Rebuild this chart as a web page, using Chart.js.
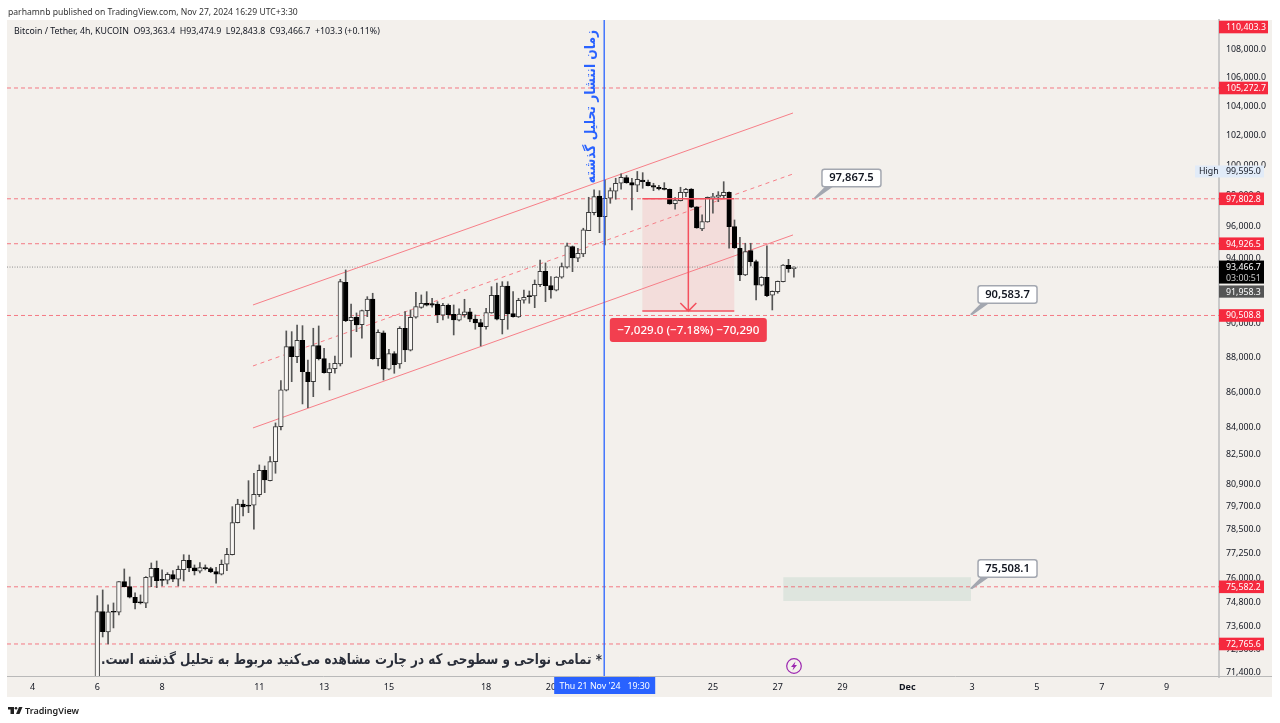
<!DOCTYPE html>
<html><head><meta charset="utf-8">
<style>
html,body{margin:0;padding:0;background:#fff;width:1280px;height:723px;overflow:hidden}
#c{position:absolute;left:0;top:0}
.t{position:absolute;white-space:pre;font-family:"Noto Sans",sans-serif;color:#131722}
</style>
<script src="https://cdn.jsdelivr.net/npm/chart.js@4/dist/chart.umd.min.js"></script>
</head><body>
<canvas id="c" width="1280" height="723"></canvas>
<div class="t" style="left:8px;top:6px;font-size:8.6px;color:#333">parhamnb published on TradingView.com, Nov 27, 2024 16:29 UTC+3:30</div>
<div class="t" style="left:14px;top:25px;font-size:8.8px">Bitcoin / Tether, 4h, KUCOIN  O93,363.4  H93,474.9  L92,843.8  C93,466.7  +103.3 (+0.11%)</div>
<div class="t" style="left:25px;top:704px;font-size:9px;font-weight:600;color:#222">TradingView</div>
<script>
const opens=[71048,74346,73350,74331,74316,75841,75590,75060,74791,74761,76063,76519,75911,75911,76200,75962,76448,76926,76535,76367,76550,76500,76347,76216,76723,77213,78872,79858,79753,79790,80354,81667,81103,82134,84067,86124,88654,88066,89030,87176,86616,88713,87948,87135,87367,87640,92527,90196,90401,89958,90799,91506,87948,89465,87332,88243,87640,89744,88442,90401,91000,91246,91221,91203,90522,91125,90582,90220,90558,90721,90298,90077,89839,90661,91733,90256,92301,90619,90419,91427,91690,91690,92380,93206,92319,92038,92835,93455,94755,94014,94283,95755,96907,97987,96649,97837,98294,98817,99185,98856,98686,99032,98901,98660,98555,98425,98425,97487,97681,98203,98444,97275,95864,96309,97876,97901,98007,98229,96010,94642,92978,94492,93802,92344,92835,91733,91952,92564,93578,93363.4];
const highs=[75139,75425,74677,74776,75841,76484,76078,75275,75175,76094,76789,76890,76433,76296,76397,76636,77213,77198,76687,76804,76687,76570,76570,76941,77543,79716,80107,80070,81103,81504,81955,81900,82408,84273,86673,89584,89542,89940,89899,87872,89744,89881,88560,87681,88107,92711,93288,91203,90661,90841,91647,91855,89643,89584,88501,88360,89840,90736,90841,91904,91752,91952,91549,91342,91246,91203,91143,90902,91488,90944,90540,90280,90944,92258,92484,92564,92564,91953,91549,92056,91995,92668,93907,93721,92872,92872,93721,94975,94787,94642,95908,97901,98379,98333,99032,98510,99145,99430,99330,99145,99595,99516,99032,98817,98686,98856,98444,97876,98555,98490,98470,97294,96759,97922,98163,98268,98921,98249,96436,95334,94956,94956,93907,92872,94787,91995,92606,93628,93950,93474.9];
const lows=[70900,73106,72767,73546,74183,75575,75024,74479,74726,74544,75590,75540,75625,75726,75841,75625,75876,76347,76180,76280,76433,76296,75761,76180,76397,77198,78856,79223,79398,78528,80247,80460,81087,81504,83883,86084,86616,87715,85343,85134,85758,87872,87100,86141,87100,87524,90137,88031,89542,89149,90437,87913,87524,86713,87292,87100,87390,87773,88401,90340,90942,91083,91004,90077,90238,90340,89346,90179,90401,90137,89685,88695,89685,90643,90238,89405,89685,90401,90389,91246,91246,90980,92258,91342,91549,91995,92773,93392,93182,93802,94115,96888,96759,95628,94850,97513,97772,98425,98817,97081,98268,98490,98640,98333,98379,98379,97449,97126,97661,97942,97229,95908,95755,96290,96868,97616,97837,94642,94630,92625,92935,93535,91445,92301,91647,90841,91855,92546,93145,92843.8];
const closes=[74346,73365,74331,74315,75841,75590,75060,74791,74780,76063,76519,75891,75905,76216,75962,76469,76926,76535,76382,76550,76500,76347,76216,76723,77234,78872,79858,79700,79745,80375,81667,81140,82134,84067,86141,88654,88066,89030,87193,86616,88713,87948,87135,87367,87681,92564,90196,90401,89940,90799,91506,87948,89506,87350,88243,87599,89744,88460,90401,91040,91246,91125,91125,90540,91125,90558,90238,90600,90721,90280,90060,89839,90680,91733,90280,92301,90600,90437,91427,91610,91647,92405,93206,92319,92056,92854,93492,94787,94033,94328,95800,96933,97942,96649,97837,98333,98817,99211,98856,98686,99078,98921,98660,98555,98444,98415,97468,97726,98229,98425,97255,95928,96328,97901,97942,98052,98229,96010,94660,92978,94429,93802,92344,92835,91708,91978,92588,93597,93363,93466.7];

const yTickValues=[108000,106000,104000,102000,100000,98000,96000,94000,92000,90000,88000,86000,84000,82500,80900,79700,78500,77250,76000,74800,73600,72500,71400];
const xTickBars=[-12,0,12,30,42,54,72,84,114,126,138,150,162,174,186,198];
const xTickLabels=['4','6','8','11','13','15','18','20','25','27','29','Dec','3','5','7','9'];
const levelPrices=[105272.7,97802.8,94926.5,90508.8,75582.2,72765.6];
const levelLabels=['105,272.7','97,802.8','94,926.5','90,508.8','75,582.2','72,765.6'];
const topLabelPrice=110403.3, topLabelText='110,403.3';
const lastPrice=93466.7, prevPrice=91958.3, highPrice=99595.0;
const channelBars=[28.83,128.83];
const channelUpper=[91143,103539];
const channelMiddle=[87524,99430];
const channelLower=[83994,95482];
const markerBar=93.87;
const measureBars=[100.93,117.96];
const measureBarMid=109.45;
const measurePrices=[97802.8,90773.8];
const zoneBars=[127.04,161.8];
const zonePrices=[76063,74875];
const calloutBars=[132.9,161.8,161.8];
const calloutPrices=[97867.5,90583.7,75508.1];
const calloutTexts=['97,867.5','90,583.7','75,508.1'];

const X_MIN=-16.72,X_MAX=207.72,Y_MAX=110136,Y_MIN=71187;
const FONT='"Noto Sans",sans-serif';
const PINK='rgba(244,82,96,0.75)';
const idx=opens.map((_,i)=>i);
const isUp=i=>closes[i]>=opens[i];

function hLine(p,color,dash){return {type:'line',data:[{x:X_MIN,y:p},{x:X_MAX,y:p}],borderColor:color,borderWidth:1,borderDash:dash,pointRadius:0,order:5,tension:0};}
function seg(xs,ys,color,dash,order,w){return {type:'line',data:xs.map((x,i)=>({x,y:ys[i]})),borderColor:color,borderWidth:w||1,borderDash:dash||[],pointRadius:0,order:order,tension:0};}

const bgPlugin={id:'bg',
 beforeDraw(ch){const c=ch.ctx;c.save();c.fillStyle='#fff';c.fillRect(0,0,1280,723);c.fillStyle='#f3f0ec';c.fillRect(7,20,1265,677);c.restore();},
 beforeDatasetsDraw(ch){const c=ch.ctx,x=ch.scales.x,y=ch.scales.y;c.save();
  c.fillStyle='rgba(8,120,90,0.09)';
  c.fillRect(x.getPixelForValue(zoneBars[0]),y.getPixelForValue(zonePrices[0]),x.getPixelForValue(zoneBars[1])-x.getPixelForValue(zoneBars[0]),y.getPixelForValue(zonePrices[1])-y.getPixelForValue(zonePrices[0]));
  const mx0=x.getPixelForValue(measureBars[0]),mx1=x.getPixelForValue(measureBars[1]),my0=y.getPixelForValue(measurePrices[0]),my1=y.getPixelForValue(measurePrices[1]);
  c.fillStyle='rgba(242,54,69,0.10)';c.fillRect(mx0,my0,mx1-mx0,my1-my0);
  c.restore();},
 afterDraw(ch){const c=ch.ctx,x=ch.scales.x,y=ch.scales.y;c.save();
  c.strokeStyle='#b9b9b9';c.lineWidth=1;c.beginPath();c.moveTo(7,676.5);c.lineTo(1272,676.5);c.stroke();
  const mx0=x.getPixelForValue(measureBars[0]),mx1=x.getPixelForValue(measureBars[1]),my0=y.getPixelForValue(measurePrices[0]),my1=y.getPixelForValue(measurePrices[1]),mm=x.getPixelForValue(measureBarMid);
  c.strokeStyle='#f4505e';c.lineWidth=1.5;
  c.beginPath();c.moveTo(mx0,my0);c.lineTo(mx1,my0);c.moveTo(mx0,my1);c.lineTo(mx1,my1);c.moveTo(mm,my0);c.lineTo(mm,my1);
  c.moveTo(mm-8,my1-8);c.lineTo(mm,my1);c.lineTo(mm+8,my1-8);c.stroke();
  c.fillStyle='#f23f4f';c.beginPath();c.roundRect(mm-78.5,my1+7,157,24,3);c.fill();
  c.fillStyle='#fff';c.font='500 11.6px '+FONT;c.textAlign='center';c.textBaseline='middle';
  c.fillText('\u22127,029.0 (\u22127.18%) \u221270,290',mm,my1+19.5);
  calloutTexts.forEach((t,i)=>{const ax=x.getPixelForValue(calloutBars[i]),ay=y.getPixelForValue(calloutPrices[i]);
   c.fillStyle='#a3a7b0';c.beginPath();c.moveTo(ax-1,ay);c.lineTo(ax+10,ay-11);c.lineTo(ax+18,ay-11);c.lineTo(ax+1,ay+1);c.closePath();c.fill();
   c.fillStyle='#fff';c.strokeStyle='#a3a7b0';c.lineWidth=1.5;c.beginPath();c.roundRect(ax+7,ay-28.5,59,17.5,2.5);c.fill();c.stroke();
   c.fillStyle='#131722';c.font='600 11.2px '+FONT;c.textAlign='center';c.textBaseline='middle';c.fillText(t,ax+36.5,ay-19.5);
  });
  const box=(py,h,col,txt,w)=>{c.fillStyle=col;c.fillRect(1219,py-h/2,w||45,h);c.fillStyle='#fff';c.font='8.8px '+FONT;c.textAlign='left';c.textBaseline='middle';c.fillText(txt,1226,py+0.5);};
  levelPrices.forEach((p,i)=>box(y.getPixelForValue(p),12.6,'#f5293e',levelLabels[i],levelLabels[i].length>8?49:45));
  box(Math.max(y.getPixelForValue(topLabelPrice),y.top+7),12.6,'#f5293e',topLabelText,49);
  const hy=y.getPixelForValue(highPrice);c.fillStyle='#e1ebf8';c.fillRect(1195,hy-6,69,12);c.fillStyle='#131722';c.font='8.8px '+FONT;c.textAlign='left';c.textBaseline='middle';c.fillText('High',1199,hy+0.5);c.fillText('99,595.0',1226,hy+0.5);
  box(y.getPixelForValue(prevPrice),12.2,'#555','91,958.3');
  const ly=y.getPixelForValue(lastPrice);c.fillStyle='#000';c.fillRect(1219,ly-6.5,45,23);c.fillStyle='#fff';c.font='8.8px '+FONT;c.fillText('93,466.7',1226,ly+0.5);c.fillStyle='#c8c8c8';c.fillText('03:00:51',1226,ly+11);
  const bx=x.getPixelForValue(markerBar);c.fillStyle='#2962ff';c.fillRect(bx-50,677,101,17);c.fillStyle='#fff';c.font='8.8px '+FONT;c.textAlign='center';c.fillText("Thu 21 Nov '24   19:30",bx+0.5,686);
  c.save();c.translate(602,660.5);c.scale(0.88,1.06);c.direction='rtl';c.textAlign='right';c.textBaseline='middle';c.fillStyle='#2a2e39';c.font='bold 13.6px "DejaVu Sans"';
  c.fillText('* تمامی نواحی و سطوحی که در چارت مشاهده می\u200cکنید مربوط به تحلیل گذشته است.',0,0);c.restore();
  c.save();c.translate(591,30);c.rotate(-Math.PI/2);c.scale(0.9,1.06);c.fillStyle='#2962ff';c.font='bold 13.6px "DejaVu Sans"';c.direction='rtl';c.textAlign='right';c.textBaseline='middle';
  c.fillText('زمان انتشار تحلیل گذشته',0,0);c.restore();
  c.strokeStyle='#9c27b0';c.lineWidth=1.2;c.beginPath();c.arc(794,666,7.3,0,Math.PI*2);c.stroke();
  c.fillStyle='#9c27b0';c.beginPath();c.moveTo(795.5,661.5);c.lineTo(791,667);c.lineTo(793.6,667);c.lineTo(792.5,670.5);c.lineTo(797,665);c.lineTo(794.4,665);c.closePath();c.fill();
  c.fillStyle='#222';c.fillRect(8,707,6,2.5);c.fillRect(10.5,707,3.5,7);c.beginPath();c.arc(16,708.3,1.3,0,7);c.fill();
  c.beginPath();c.moveTo(19,707);c.lineTo(22.5,707);c.lineTo(19.5,714);c.lineTo(16,714);c.closePath();c.fill();
  c.restore();}
};

new Chart(document.getElementById('c'),{
 type:'bar',
 plugins:[bgPlugin],
 data:{datasets:[
  {label:'wicks',data:idx.map(i=>({x:i,y:[lows[i],highs[i]]})),backgroundColor:'#555',barThickness:1,grouped:false,order:3},
  {label:'bodies',data:idx.map(i=>({x:i,y:[opens[i],closes[i]]})),backgroundColor:idx.map(i=>isUp(i)?'#f8f6f3':'#000'),borderColor:idx.map(i=>isUp(i)?'#3a3a3a':'#000'),borderWidth:1,borderSkipped:false,barThickness:4.6,minBarLength:1,grouped:false,order:2},
  seg(channelBars,channelUpper,'#f77f88',[],4),
  seg(channelBars,channelMiddle,'#f77f88',[4,4],4),
  seg(channelBars,channelLower,'#f77f88',[],4),
  ...levelPrices.map(p=>hLine(p,PINK,[4,3])),
  hLine(lastPrice,'#8f8f8f',[1,1.5]),
  seg([markerBar,markerBar],[Y_MIN,Y_MAX],'#2962ff',[],1,1.3)
 ]},
 options:{
  responsive:false,animation:false,devicePixelRatio:1,
  layout:{padding:{left:7,top:20,right:8,bottom:26}},
  plugins:{legend:{display:false},tooltip:{enabled:false},title:{display:false}},
  scales:{
   x:{type:'linear',position:'bottom',min:X_MIN,max:X_MAX,offset:false,bounds:'data',
    grid:{display:false,drawTicks:false},border:{display:false},
    afterFit(s){s.height=20;},
    afterBuildTicks(s){s.ticks=xTickBars.map(v=>({value:v}));},
    ticks:{autoSkip:false,maxRotation:0,minRotation:0,padding:5,color:'#131722',
     font:c=>({family:FONT,size:9,weight:(c.tick&&c.tick.value===150)?'bold':'normal'}),
     callback:v=>{const k=xTickBars.indexOf(v);return k<0?'':xTickLabels[k];}}},
   y:{type:'logarithmic',position:'right',min:Y_MIN,max:Y_MAX,bounds:'data',
    grid:{display:false,drawTicks:false},border:{display:true,color:'#c9c9c9',width:2},
    afterFit(s){s.width=53;},
    afterBuildTicks(s){s.ticks=yTickValues.map(v=>({value:v}));},
    ticks:{autoSkip:false,padding:7,labelOffset:0,color:'#131722',font:{family:FONT,size:8.8},
     callback:v=>Number(v).toLocaleString('en-US',{minimumFractionDigits:1,maximumFractionDigits:1})}}
  }
 }
});
</script>
</body></html>
